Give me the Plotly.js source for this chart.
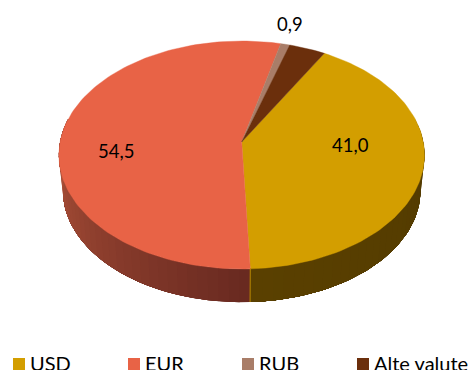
<!DOCTYPE html>
<html>
<head>
<meta charset="utf-8">
<script src="https://cdn.plot.ly/plotly-3.0.1.min.js"></script>
<style>html,body{margin:0;padding:0;background:#fff;overflow:hidden}#chart{width:468px;height:370px}</style>
</head>
<body>
<div id="chart"></div>
<script>
// data
const categories = ["USD", "EUR", "RUB", "Alte valute"];
const values = [41.0, 54.5, 0.9, 3.6];
const showLabel = [true, true, true, false];
const colors = ["#D39E00", "#E86346", "#A97D68", "#6B2F0C"];

// projection of the tilted disc
const cx = 241.7, cy = 142, a = 181.6, b = 112.5, k = 0.114;
const startDeg = 30, wallScale = 0.978, wallDrop = 36;
function rim(deg, r) {
  const t = deg * Math.PI / 180, u = r * Math.sin(t), v = -r * Math.cos(t), w = 1 - k * v;
  return [cx + a * u / w, cy + b * v / w];
}
function wall(deg) {
  const p = rim(deg, 1);
  return [cx + (p[0] - cx) * wallScale, cy + (p[1] - cy) * wallScale + wallDrop];
}
function mix(c1, c2, f) {
  return "rgb(" + c1.map((c, i) => Math.round(c + (c2[i] - c) * f)).join(",") + ")";
}
const total = values.reduce((s, v) => s + v, 0);
const ranges = [];
let acc = startDeg;
values.forEach(v => { const e = acc + v / total * 360; ranges.push([acc, e]); acc = e; });

const traces = [];
function poly(xs, ys, color, lineColor, width) {
  traces.push({type: "scatter", mode: "lines", x: xs.concat(xs[0]), y: ys.concat(ys[0]), fill: "toself",
    fillcolor: color, line: {color: lineColor || color, width: width === undefined ? 0.7 : width},
    hoverinfo: "skip", showlegend: false});
}
// side walls: each band runs on to the far end of its wall, later bands paint over it
const wallEnd = 282;
function wallStrip(from, to, colorAt) {
  const step = 3, fine = 1.5, dir = to > from ? 1 : -1;
  for (let d = from; (to - d) * dir > 1e-6; d += dir * step) {
    const xs = [], ys = [], ret = [];
    const n = Math.max(1, Math.round(Math.abs(to - d) / fine));
    for (let j = 0; j <= n; j++) {
      const g = d + (to - d) * j / n, p = rim(g, 1), q = wall(g);
      xs.push(p[0]); ys.push(p[1]); ret.push(q);
    }
    ret.reverse().forEach(q => { xs.push(q[0]); ys.push(q[1]); });
    poly(xs, ys, colorAt(d + dir * step / 2), null, 0);
  }
}
wallStrip(78, ranges[0][1], d => mix([82, 58, 0], [90, 64, 0], (d - 78) / (ranges[0][1] - 78)));
wallStrip(ranges[1][0], wallEnd, d => mix([104, 41, 32], [182, 86, 60], (d - ranges[1][0]) / (wallEnd - ranges[1][0])));
// seam between the two visible walls
const s1 = rim(ranges[0][1], 1), s2 = wall(ranges[0][1]);
traces.push({type: "scatter", mode: "lines", x: [s1[0], s2[0]], y: [s1[1], s2[1]], line: {color: "#B98A00", width: 1}, hoverinfo: "skip", showlegend: false});

// top slices
ranges.forEach((r, i) => {
  const xs = [cx], ys = [cy];
  const n = Math.max(2, Math.ceil((r[1] - r[0]) / 1.5));
  for (let j = 0; j <= n; j++) {
    const p = rim(r[0] + (r[1] - r[0]) * j / n, 1);
    xs.push(p[0]); ys.push(p[1]);
  }
  poly(xs, ys, colors[i], null, 0.4);
});

const fontFam = 'Lato, sans-serif';
const fmt = v => v.toFixed(1).replace(".", ",");
const labelPos = [[350, 145], [116, 151], [290, 24]];
const annotations = [];
categories.forEach((c, i) => {
  if (showLabel[i]) annotations.push({x: labelPos[i][0], y: labelPos[i][1], xref: "x", yref: "y", text: fmt(values[i]),
    showarrow: false, font: {family: fontFam, size: 18.5, color: "#000"}, xanchor: "center", yanchor: "middle"});
});
const swatchX = [13, 128, 242, 357];
const shapes = [];
categories.forEach((c, i) => {
  shapes.push({type: "rect", xref: "x", yref: "y", x0: swatchX[i], x1: swatchX[i] + 12, y0: 358, y1: 370,
    fillcolor: colors[i], line: {width: 0}});
  annotations.push({x: swatchX[i] + 15, y: 363, xref: "x", yref: "y", text: c, showarrow: false,
    font: {family: fontFam, size: 20, color: "#000"}, xanchor: "left", yanchor: "middle"});
});

Plotly.newPlot("chart", traces, {
  width: 468, height: 370, margin: {l: 0, r: 0, t: 0, b: 0},
  paper_bgcolor: "#fff", plot_bgcolor: "#fff", showlegend: false,
  xaxis: {range: [0, 468], visible: false, fixedrange: true},
  yaxis: {range: [370, 0], visible: false, fixedrange: true},
  annotations, shapes
}, {displayModeBar: false, staticPlot: true});
</script>
</body>
</html>
